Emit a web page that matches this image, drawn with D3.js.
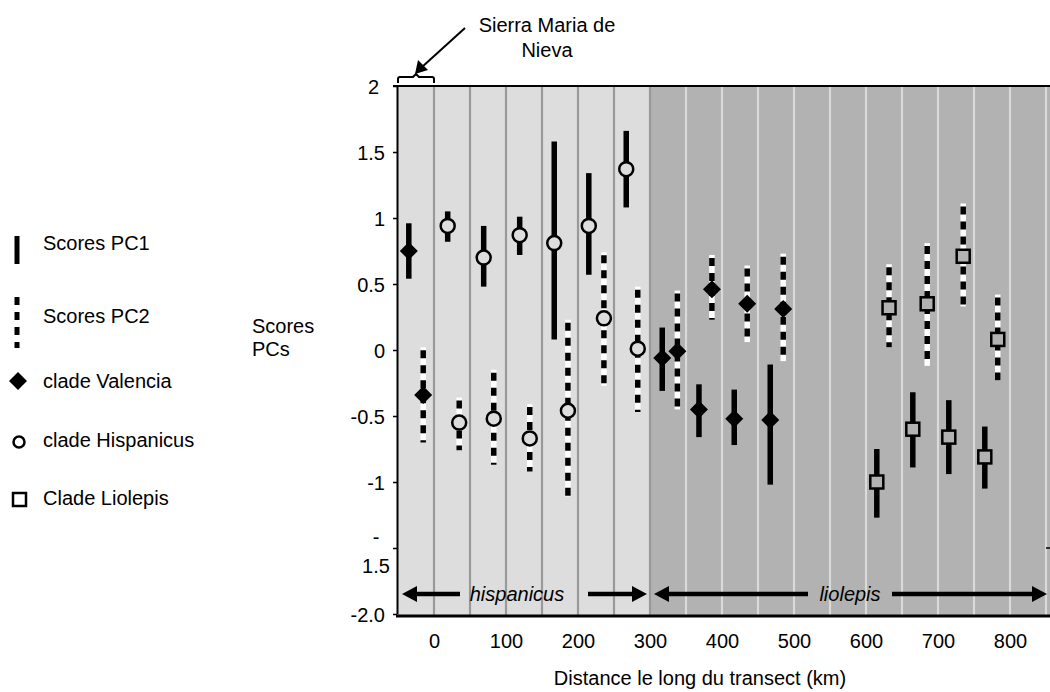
<!DOCTYPE html>
<html>
<head>
<meta charset="utf-8">
<script src="https://cdn.jsdelivr.net/npm/d3@7"></script>
<style>
  body { margin: 0; background: #fff; }
  svg { display: block; font-family: "Liberation Sans", Arial, sans-serif; }
</style>
</head>
<body>
<svg id="chart" width="1050" height="692"></svg>
<script>
// PC1 scores (solid bars): distance (km), clade, mean, low, high
const pc1Km    = [-35, 19, 69, 119, 167, 215, 267, 317, 368, 417, 467, 615, 665, 715, 765];
const pc1Clade = ["V", "H", "H", "H", "H", "H", "H", "V", "V", "V", "V", "L", "L", "L", "L"];
const pc1Mean  = [0.75, 0.94, 0.70, 0.87, 0.81, 0.94, 1.37, -0.06, -0.45, -0.52, -0.53, -1.00, -0.60, -0.66, -0.81];
const pc1Low   = [0.54, 0.82, 0.48, 0.72, 0.08, 0.57, 1.08, -0.31, -0.66, -0.72, -1.02, -1.27, -0.89, -0.94, -1.05];
const pc1High  = [0.96, 1.05, 0.94, 1.01, 1.58, 1.34, 1.66, 0.17, -0.26, -0.30, -0.11, -0.75, -0.32, -0.38, -0.58];

// PC2 scores (dashed bars)
const pc2Km    = [-15, 35, 83, 133, 186, 236, 283, 338, 386, 435, 485, 632, 685, 735, 783];
const pc2Clade = ["V", "H", "H", "H", "H", "H", "H", "V", "V", "V", "V", "L", "L", "L", "L"];
const pc2Mean  = [-0.34, -0.55, -0.52, -0.67, -0.46, 0.24, 0.01, -0.01, 0.46, 0.35, 0.31, 0.32, 0.35, 0.71, 0.08];
const pc2Low   = [-0.70, -0.76, -0.87, -0.92, -1.11, -0.27, -0.47, -0.45, 0.23, 0.06, -0.09, 0.02, -0.12, 0.33, -0.23];
const pc2High  = [0.02, -0.36, -0.15, -0.41, 0.23, 0.74, 0.48, 0.45, 0.72, 0.64, 0.73, 0.65, 0.81, 1.11, 0.42];

const xTicks = [0, 100, 200, 300, 400, 500, 600, 700, 800];
const yTicks = [2, 1.5, 1, 0.5, 0, -0.5, -1, -1.5, -2];
const yTickLabels = ["2", "1.5", "1", "0.5", "0", "-0.5", "-1", "-|1.5", "-2.0"];
const gridKm = d3.range(0, 901, 50);
const zoneSplit = 300;

const legendItems = ["Scores PC1", "Scores PC2", "clade Valencia", "clade Hispanicus", "Clade Liolepis"];

const svg = d3.select("#chart");
const x = d3.scaleLinear().domain([-50, 850]).range([398, 1046]);
const y = d3.scaleLinear().domain([-2, 2]).range([614, 86]);
const plotTop = 86, plotBottom = 616;

const light = "#dddddd", dark = "#b2b2b2";

// background zones
svg.append("rect").attr("x", x(-50)).attr("y", plotTop).attr("width", x(zoneSplit) - x(-50)).attr("height", plotBottom - plotTop).attr("fill", light);
svg.append("rect").attr("x", x(zoneSplit)).attr("y", plotTop).attr("width", x(900) - x(zoneSplit)).attr("height", plotBottom - plotTop).attr("fill", dark);

// vertical grid lines
svg.append("g").selectAll("line").data(gridKm).join("line")
  .attr("x1", d => x(d)).attr("x2", d => x(d))
  .attr("y1", plotTop).attr("y2", plotBottom)
  .attr("stroke", d => d <= zoneSplit ? "#999999" : "#dadada")
  .attr("stroke-width", 2.2);

// top border
svg.append("line").attr("x1", 393).attr("x2", 1050).attr("y1", plotTop).attr("y2", plotTop)
  .attr("stroke", "#000").attr("stroke-width", 2);

// y axis
const yAxis = svg.append("g").attr("transform", `translate(${x(-50) - 1},0)`)
  .call(d3.axisLeft(y).tickValues(yTicks).tickSize(4).tickSizeOuter(0).tickFormat(""));
yAxis.select(".domain").attr("stroke-width", 2);
yAxis.selectAll(".tick line").attr("stroke-width", 1.5);
yAxis.selectAll(".tick").each(function(d, i) {
  const parts = yTickLabels[i].split("|");
  const t = d3.select(this).append("text").attr("fill", "#000").attr("font-size", 20)
    .attr("text-anchor", parts.length > 1 ? "middle" : "end");
  if (parts.length > 1) {
    t.append("tspan").attr("x", -21).attr("y", -5).text(parts[0]);
    t.append("tspan").attr("x", -21).attr("y", 24).text(parts[1]);
  } else {
    t.attr("x", d === 2 ? -18 : -12).attr("dy", "0.35em").text(parts[0]);
  }
});

// x axis (labels only)
const xAxis = svg.append("g").attr("transform", `translate(0,${plotBottom})`)
  .call(d3.axisBottom(x).tickValues(xTicks).tickSize(0).tickPadding(18).tickFormat(d3.format("d")));
xAxis.select(".domain").remove();
xAxis.selectAll("text").attr("font-size", 20).attr("fill", "#000");
svg.append("line").attr("x1", x(-50) - 2).attr("x2", 1050).attr("y1", plotBottom).attr("y2", plotBottom)
  .attr("stroke", "#000").attr("stroke-width", 3);
svg.append("line").attr("x1", 1046).attr("x2", 1050).attr("y1", y(-1.5)).attr("y2", y(-1.5))
  .attr("stroke", "#000").attr("stroke-width", 1.5);

// axis titles
svg.append("text").attr("x", 700).attr("y", 685).attr("text-anchor", "middle").attr("font-size", 20)
  .text("Distance le long du transect (km)");
const yt = svg.append("text").attr("font-size", 20);
yt.append("tspan").attr("x", 252).attr("y", 333).text("Scores");
yt.append("tspan").attr("x", 252).attr("y", 356).text("PCs");

// zone arrows
function arrow(x1, x2, yy) {
  const dir = Math.sign(x2 - x1);
  svg.append("line").attr("x1", x1).attr("x2", x2 - dir * 12).attr("y1", yy).attr("y2", yy)
    .attr("stroke", "#000").attr("stroke-width", 4.5);
  svg.append("path").attr("d", `M${x2},${yy} L${x2 - dir * 15},${yy - 8} L${x2 - dir * 15},${yy + 8} Z`).attr("fill", "#000");
}
const ay = 594;
arrow(460, 402, ay); arrow(588, 647, ay);
arrow(808, 654, ay); arrow(892, 1047, ay);
svg.append("text").attr("x", 517).attr("y", ay + 7).attr("text-anchor", "middle").attr("font-size", 20)
  .attr("font-style", "italic").text("hispanicus");
svg.append("text").attr("x", 850).attr("y", ay + 7).attr("text-anchor", "middle").attr("font-size", 20)
  .attr("font-style", "italic").text("liolepis");

// Sierra Maria de Nieva annotation
const st = svg.append("text").attr("font-size", 20).attr("text-anchor", "middle");
st.append("tspan").attr("x", 547).attr("y", 32).text("Sierra Maria de");
st.append("tspan").attr("x", 547).attr("y", 57).text("Nieva");
svg.append("line").attr("x1", 465).attr("y1", 28).attr("x2", 422).attr("y2", 67)
  .attr("stroke", "#000").attr("stroke-width", 2);
svg.append("path").attr("d", "M415,74 L418,60 L428,70 Z").attr("fill", "#000");
const bx0 = x(-50), bx1 = x(0), bm = (bx0 + bx1) / 2;
svg.append("path")
  .attr("d", `M${bx0},83 L${bx0},79 Q${bx0},77 ${bx0 + 2},77 L${bm - 3},77 L${bm},74 L${bm + 3},77 L${bx1 - 2},77 Q${bx1},77 ${bx1},79 L${bx1},83`)
  .attr("fill", "none").attr("stroke", "#000").attr("stroke-width", 2);

// markers
function marker(g, clade, cx, cy, fill) {
  if (clade === "V") {
    g.append("path").attr("d", `M${cx},${cy - 9} L${cx + 9},${cy} L${cx},${cy + 9} L${cx - 9},${cy} Z`).attr("fill", "#000");
  } else if (clade === "H") {
    g.append("circle").attr("cx", cx).attr("cy", cy).attr("r", 7).attr("fill", fill || light)
      .attr("stroke", "#000").attr("stroke-width", 2.5);
  } else {
    g.append("rect").attr("x", cx - 6.5).attr("y", cy - 6.5).attr("width", 13).attr("height", 13)
      .attr("fill", fill || dark).attr("stroke", "#000").attr("stroke-width", 2.5);
  }
}

const bars = svg.append("g");
// PC2 dashed bars
pc2Km.forEach((d, i) => {
  bars.append("line").attr("x1", x(d)).attr("x2", x(d)).attr("y1", y(pc2High[i])).attr("y2", y(pc2Low[i]))
    .attr("stroke", "#fff").attr("stroke-width", 5.5);
  bars.append("line").attr("x1", x(d)).attr("x2", x(d)).attr("y1", y(pc2High[i]) + 3).attr("y2", y(pc2Low[i]))
    .attr("stroke", "#000").attr("stroke-width", 5.5).attr("stroke-dasharray", "8,7");
});
// PC1 solid bars
pc1Km.forEach((d, i) => {
  bars.append("line").attr("x1", x(d)).attr("x2", x(d)).attr("y1", y(pc1High[i])).attr("y2", y(pc1Low[i]))
    .attr("stroke", "#000").attr("stroke-width", 5.5);
});
const marks = svg.append("g");
pc2Km.forEach((d, i) => marker(marks, pc2Clade[i], x(d), y(pc2Mean[i])));
pc1Km.forEach((d, i) => marker(marks, pc1Clade[i], x(d), y(pc1Mean[i])));

// legend
const lg = svg.append("g");
const ly = [243, 316, 381, 440, 498];
lg.append("line").attr("x1", 17).attr("x2", 17).attr("y1", 236).attr("y2", 264).attr("stroke", "#000").attr("stroke-width", 5);
lg.append("line").attr("x1", 17).attr("x2", 17).attr("y1", 297).attr("y2", 348).attr("stroke", "#000").attr("stroke-width", 5)
  .attr("stroke-dasharray", "8,7");
marker(lg, "V", 18, ly[2]);
lg.append("circle").attr("cx", 19).attr("cy", ly[3] + 2).attr("r", 5.5).attr("fill", "#fff").attr("stroke", "#000").attr("stroke-width", 2.5);
lg.append("rect").attr("x", 13).attr("y", ly[4] - 5).attr("width", 13).attr("height", 13).attr("fill", "#fff")
  .attr("stroke", "#000").attr("stroke-width", 2.5);
lg.selectAll("text").data(legendItems).join("text")
  .attr("x", 43).attr("y", (d, i) => ly[i]).attr("dy", "0.35em").attr("font-size", 20).text(d => d);
</script>
</body>
</html>
